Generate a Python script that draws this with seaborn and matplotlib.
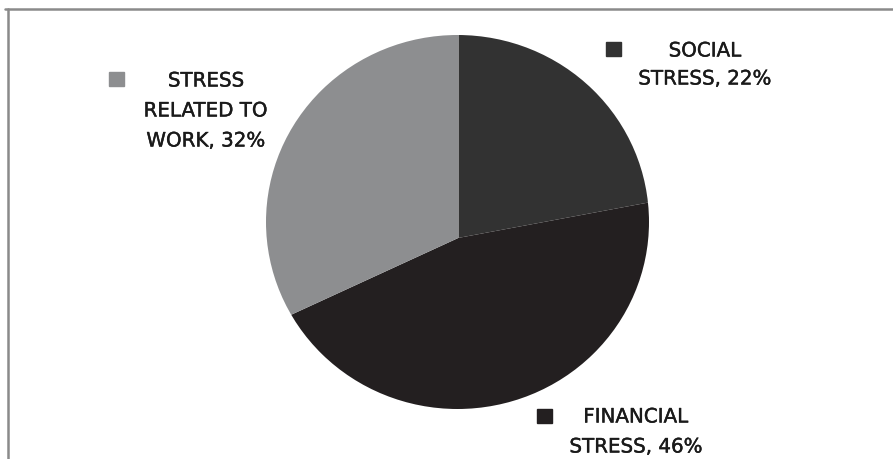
import matplotlib
matplotlib.use("Agg")
import matplotlib.pyplot as plt
import matplotlib.patheffects as pe
from matplotlib.lines import Line2D
from matplotlib.patches import Rectangle, Circle
import seaborn as sns

# Causes of stress (share of respondents, %)
categories = ["SOCIAL\nSTRESS, 22%", "FINANCIAL\nSTRESS, 46%", "STRESS\nRELATED TO\nWORK, 32%"]
shares = [22, 46, 32]
colors = ["#323232", "#231f20", "#8d8e90"]

sns.set_theme(style="white")
plt.rcParams["font.family"] = ["DejaVu Sans"]

W, H = 893, 460
fig = plt.figure(figsize=(W / 100, H / 100), dpi=100)
fig.patch.set_facecolor("white")


def fx(x):
    return x / W


def fy(y):
    return 1 - y / H


# Pie axes placed by pixel box; the slice apex sits a little below the
# middle of the outline, so wedges are drawn larger and clipped to it
left, right, top, bottom = 266, 649, 36, 410
ax = fig.add_axes([fx(left), fy(bottom), (right - left) / W, (bottom - top) / H])
wedges, _ = ax.pie(shares, colors=colors, startangle=90, counterclock=False,
                   wedgeprops=dict(linewidth=0, clip_on=True),
                   radius=1.4, center=(0.005, -0.085))
ax.set_aspect("auto")
ax.set_xlim(-1, 1)
ax.set_ylim(-1, 1)
outline = Circle((0, 0), 1, transform=ax.transData)
for w in wedges:
    w.set_clip_on(True)
    w.set_clip_path(outline)
ax.axis("off")

# Outer frame (top and left edges)
frame_col = "#8a8a8a"
fig.add_artist(Line2D([fx(5), 1], [fy(9.5), fy(9.5)], color=frame_col, lw=1.8,
                      transform=fig.transFigure))
fig.add_artist(Line2D([fx(8), fx(8)], [fy(9.5), 0], color=frame_col, lw=1.8,
                      transform=fig.transFigure))

# Labels with square markers
label_specs = [
    # (marker x0, marker y0, text center x, first line y, line gap)
    (606, 43, 705, 52, 28),
    (537, 410, 636, 418, 30),
    (109, 73, 206, 82, 30),
]
heavier = [pe.withStroke(linewidth=0.3, foreground="#1a1a1a")]
for (mx, my, tx, ty, gap), text, col in zip(label_specs, categories, colors):
    fig.add_artist(Rectangle((fx(mx), fy(my + 14)), 15 / W, 14 / H, color=col,
                             transform=fig.transFigure))
    for i, line in enumerate(text.split("\n")):
        fig.text(fx(tx), fy(ty + i * gap), line, ha="center", va="center",
                 fontsize=14.3, color="#1a1a1a", path_effects=heavier)

fig.savefig("out.png", dpi=100, facecolor="white")
